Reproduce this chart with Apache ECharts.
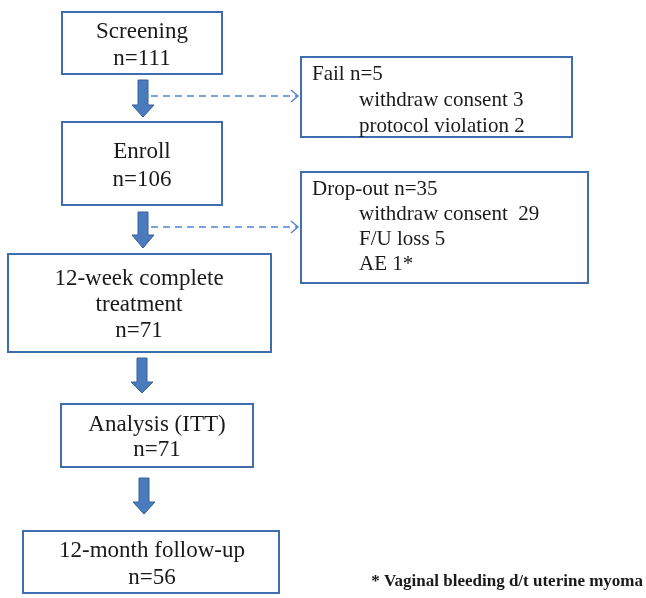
<!DOCTYPE html>
<html>
<head>
<meta charset="utf-8">
<script src="https://cdn.jsdelivr.net/npm/echarts@6/dist/echarts.min.js"></script>
<style>
  html, body { margin: 0; padding: 0; background: #fff; }
  #main { width: 646px; height: 598px; }
</style>
</head>
<body>
<div id="main"></div>
<script>
// flow data
var stepLabels = ['Screening', 'Enroll', '12-week complete\ntreatment', 'Analysis (ITT)', '12-month follow-up'];
var stepCounts = [111, 106, 71, 71, 56];
var exitTitles = ['Fail', 'Drop-out'];
var exitCounts = [5, 35];
var failReasons = ['withdraw consent 3', 'protocol violation 2'];
var dropReasons = ['withdraw consent  29', 'F/U loss 5', 'AE 1*'];
var footnote = '* Vaginal bleeding d/t uterine myoma';

// layout (x, y, w, h) and text centre x
var stepBoxes = [[62, 12, 160, 62], [62, 122, 160, 83], [8, 254, 263, 98], [61, 404, 192, 63], [23, 531, 256, 62]];
var stepTextX = [142, 142, 139, 157, 152];
var stepLineH = [27, 28, 26, 25, 27];
var exitBoxes = [[301, 57, 271, 80], [301, 172, 287, 111]];
var arrows = [[143, 80, 105, 117], [143, 212, 235, 248], [142, 358, 382, 393], [144, 478, 502, 514]]; // cx, top, headTop, tip
var dashY = [96, 227];

var BORDER = '#3f6db0';
var ARROW = '#4a7bbd';
var TEXT = '#1a1a1a';
var FONT = '"Liberation Serif", "Times New Roman", serif';

var elements = [];

stepBoxes.forEach(function (b, i) {
    elements.push({
        type: 'rect',
        shape: { x: b[0], y: b[1], width: b[2], height: b[3] },
        style: { fill: '#fff', stroke: BORDER, lineWidth: 2 }
    });
    elements.push({
        type: 'text',
        x: stepTextX[i],
        y: b[1] + b[3] / 2 + 2,
        style: {
            text: stepLabels[i] + '\nn=' + stepCounts[i],
            fontFamily: FONT,
            fontSize: 23,
            lineHeight: stepLineH[i],
            fill: TEXT,
            align: 'center',
            verticalAlign: 'middle'
        }
    });
});

var exitReasons = [failReasons, dropReasons];
var exitLineH = [26, 25];
exitBoxes.forEach(function (b, i) {
    elements.push({
        type: 'rect',
        shape: { x: b[0], y: b[1], width: b[2], height: b[3] },
        style: { fill: '#fff', stroke: BORDER, lineWidth: 2 }
    });
    var y0 = b[1] + 17;
    elements.push({
        type: 'text',
        x: b[0] + 11,
        y: y0,
        style: {
            text: exitTitles[i] + ' n=' + exitCounts[i],
            fontFamily: FONT, fontSize: 21, fill: TEXT,
            align: 'left', verticalAlign: 'middle'
        }
    });
    exitReasons[i].forEach(function (r, j) {
        elements.push({
            type: 'text',
            x: b[0] + 58,
            y: y0 + exitLineH[i] * (j + 1),
            style: {
                text: r,
                fontFamily: FONT, fontSize: 21, fill: TEXT,
                align: 'left', verticalAlign: 'middle'
            }
        });
    });
});

arrows.forEach(function (a) {
    var cx = a[0];
    elements.push({
        type: 'polygon',
        shape: {
            points: [
                [cx - 5, a[1]], [cx + 5, a[1]], [cx + 5, a[2]], [cx + 11, a[2]],
                [cx, a[3]], [cx - 11, a[2]], [cx - 5, a[2]]
            ]
        },
        style: { fill: ARROW, stroke: '#36609c', lineWidth: 1 }
    });
});

dashY.forEach(function (y) {
    elements.push({
        type: 'line',
        shape: { x1: 151, y1: y, x2: 298, y2: y },
        style: { stroke: '#4f86cf', lineWidth: 1.6, lineDash: [7, 5] }
    });
    elements.push({
        type: 'polyline',
        shape: { points: [[291, y - 6], [298, y], [291, y + 6]] },
        style: { stroke: '#4f86cf', lineWidth: 1.4, fill: null }
    });
});

elements.push({
    type: 'text',
    x: 643,
    y: 582,
    style: {
        text: footnote,
        fontFamily: FONT, fontSize: 17, fontWeight: 'bold', fill: TEXT,
        align: 'right', verticalAlign: 'middle'
    }
});

var chart = echarts.init(document.getElementById('main'));
chart.setOption({
    backgroundColor: '#fff',
    animation: false,
    graphic: { elements: elements }
});
</script>
</body>
</html>
